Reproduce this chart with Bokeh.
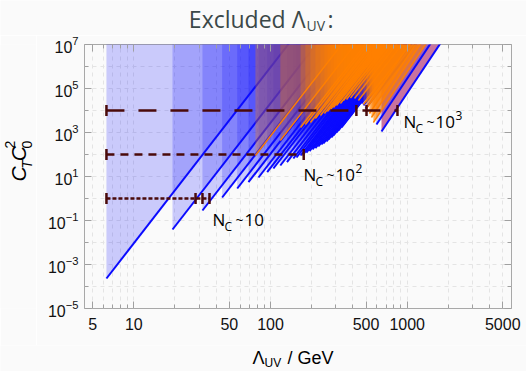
import numpy as np
from bokeh.plotting import figure
from bokeh.layouts import column, row
from bokeh.models import Label, FixedTicker, BasicTickFormatter, LogTickFormatter, Range1d, LogAxis
from bokeh.core.properties import value
from bokeh.embed import file_html
from bokeh.resources import INLINE

# ---------------- data ----------------
edge_exponent = 8.0        # exclusion edges rise like Lambda^8 ...
edge_exponent_right = 9.3  # ... and a little steeper for the last few (right-most) edges

blue_lambda = [6.31, 19.2, 31.8, 44.3, 57.1, 69.0, 81.7, 94.6, 105, 118, 132, 147, 155, 166,
               174, 183, 193, 203, 213, 224, 236, 244, 257, 266, 279, 289, 304, 314, 331, 342,
               360, 372, 385, 398, 412, 426, 440, 463, 479, 496]
blue_c = [2.31e-4, 0.039, 0.285, 1.11, 2.85, 5.51, 9.0, 15.7, 23.1, 31.6, 44.7, 65.8, 73, 90,
          105, 123, 144, 169, 197, 231, 285, 316, 390, 481, 593, 731, 1000, 1233, 1690, 2310,
          3510, 4810, 6580, 1.0e4, 1.37e4, 1.69e4, 1.87e4, 2.08e4, 1.69e4, 1.23e4]

orange_lambda = [77.6, 118, 166, 180, 196, 213, 232, 248, 261, 275, 289, 304, 325,
                 342, 360, 385, 412, 440, 479]
orange_c = [90, 433, 1690, 2310, 2850, 4330, 5930, 7310, 9010, 1.11e4, 1.37e4, 1.69e4,
            2.08e4, 2.85e4, 3.16e4, 3.7e4, 3.51e4, 2.85e4, 1.87e4]

# right-most group (steeper edges): kind 0 = orange, 1 = blue, 2 = pink strip
right_lambda = [504, 530, 548, 566, 596, 649]
right_c = [1.23e4, 7310, 4810, 2850, 2310, 1110]
right_kind = [0, 0, 0, 0, 1, 2]

bar_level = [1.0, 100.0, 1.0e4]
bar_start = [6.31, 6.31, 6.31]
bar_caps = [[28.3, 31.8, 35.8], [175.0], [425.0, 504.0, 849.0]]
bar_power = ["", "2", "3"]

x_major = [5, 10, 50, 100, 500, 1000, 5000]
x_minor = [6, 7, 8, 9, 20, 30, 40, 60, 70, 80, 90, 200, 300, 400, 600, 700, 800, 900,
           2000, 3000, 4000]
y_major = [1e-5, 1e-3, 1e-1, 1e1, 1e3, 1e5, 1e7]
y_minor = [1e-4, 1e-2, 1.0, 1e2, 1e4, 1e6]

# ---------------- styling / layout ----------------
BG = "#fafafa"
BLUE = "#0a0aff"
ORANGE = "#ff8000"
PINK = "#c8729f"
BAR = "#4a0a0a"
TITLE_C = "#3b4848"
TICK_C = "#a0a0a0"
ORANGE_ALPHA = 0.3
ORANGE_ALPHA_RIGHT = 0.6
BLUE_ALPHA = 0.2
MID = 0.33   # baseline-to-middle offset, in units of the font size

W, H = 526, 371
TOP_H = 35          # title strip height
BOT_H = 26          # x-axis title strip height
LEFT_W = 36         # y-axis title strip width
MAIN_H = H - TOP_H - BOT_H
MAIN_W = W - LEFT_W
FRAME_L, FRAME_T, FRAME_R, FRAME_B = 84, 44, 511, 308   # canvas px of the plot frame

p = figure(width=MAIN_W, height=MAIN_H, x_axis_type="log", y_axis_type="log",
           x_range=(4.36, 5795), y_range=(1e-5, 1e7), title=None,
           output_backend="svg", toolbar_location=None,
           min_border_left=FRAME_L - LEFT_W, min_border_right=W - FRAME_R,
           min_border_top=FRAME_T - TOP_H, min_border_bottom=TOP_H + MAIN_H - FRAME_B)
p.background_fill_color = BG
p.border_fill_color = BG
p.outline_line_color = "#a8a8a8"
p.outline_line_width = 1

xt = FixedTicker(ticks=x_major, minor_ticks=x_minor)
yt = FixedTicker(ticks=y_major, minor_ticks=y_minor)
p.add_layout(LogAxis(ticker=xt, major_label_overrides={t: "" for t in x_major},
                     major_label_standoff=0), "above")
p.add_layout(LogAxis(ticker=yt, major_label_overrides={t: "" for t in y_major},
                     major_label_standoff=0), "right")

for ax in p.axis:
    ax.axis_line_color = None
    ax.major_tick_in = 7
    ax.major_tick_out = 0
    ax.minor_tick_in = 4
    ax.minor_tick_out = 0
    ax.major_tick_line_color = TICK_C
    ax.minor_tick_line_color = TICK_C
    ax.major_label_text_font = "Liberation Sans"
    ax.major_label_text_font_size = "16px"
    ax.major_label_text_color = "#111111"

p.below[0].ticker = xt
p.below[0].formatter = BasicTickFormatter()
p.below[0].major_label_standoff = 9
p.left[0].ticker = yt
p.left[0].formatter = LogTickFormatter()
p.left[0].major_label_standoff = 6

for g in (p.xgrid, p.ygrid):
    g.grid_line_color = "#e4e4e4"
    g.grid_line_dash = "4 4"
    g.minor_grid_line_color = "#e4e4e4"
    g.minor_grid_line_dash = "4 4"

C_TOP = 1e9


def wedge(l0, c0, k):
    lt = l0 * (C_TOP / c0) ** (1.0 / k)
    return [l0, lt, l0], [c0, C_TOP, C_TOP]


# pink strip at the far right (drawn underneath everything)
for l0, c0, kd in zip(right_lambda, right_c, right_kind):
    if kd == 2:
        xs, ys = wedge(l0, c0, edge_exponent_right)
        p.patch(xs, ys, fill_color=PINK, fill_alpha=1.0, line_color=None)

# blue family: translucent wedges, then their edges
blue_set = [(l, c, edge_exponent) for l, c in zip(blue_lambda, blue_c)] + \
           [(l, c, edge_exponent_right) for l, c, kd in zip(right_lambda, right_c, right_kind) if kd == 1]
for l0, c0, k in blue_set:
    xs, ys = wedge(l0, c0, k)
    p.patch(xs, ys, fill_color=BLUE, fill_alpha=BLUE_ALPHA, line_color=None)
for l0, c0, k in blue_set:
    xs, ys = wedge(l0, c0, k)
    p.line(xs[:2], ys[:2], line_color=BLUE, line_width=2.0)

# orange family on top
orange_set = [(l, c, edge_exponent, ORANGE_ALPHA) for l, c in zip(orange_lambda, orange_c)] + \
             [(l, c, edge_exponent_right, ORANGE_ALPHA_RIGHT)
              for l, c, kd in zip(right_lambda, right_c, right_kind) if kd == 0]
for l0, c0, k, a in orange_set:
    xs, ys = wedge(l0, c0, k)
    p.patch(xs, ys, fill_color=ORANGE, fill_alpha=a, line_color=None)
for l0, c0, k, a in orange_set:
    xs, ys = wedge(l0, c0, k)
    p.line(xs[:2], ys[:2], line_color=ORANGE, line_width=1.4)

# edge of the pink strip
for l0, c0, kd in zip(right_lambda, right_c, right_kind):
    if kd == 2:
        xs, ys = wedge(l0, c0, edge_exponent_right)
        p.line(xs[:2], ys[:2], line_color=BLUE, line_width=2.0)

# error bars
dashes = ["4 2", "8 6", "18 14"]
for lvl, x0, caps, dash in zip(bar_level, bar_start, bar_caps, dashes):
    p.line([x0, max(caps)], [lvl, lvl], line_color=BAR, line_width=2.5, line_dash=dash)
    xs = [x0] + caps
    p.scatter(xs, [lvl] * len(xs), marker="dash", angle=np.pi / 2, size=11,
              line_color=BAR, line_width=2.5)


def put(text, cx, base, size, font="Open Sans", color="#000000", style="normal"):
    """Label inside the frame; cx / base are canvas px (left edge / baseline)."""
    cy = base - MID * size
    p.add_layout(Label(x=cx - FRAME_L, y=FRAME_B - cy, x_units="screen", y_units="screen",
                       text=text, text_font=font, text_font_size=f"{size}px",
                       text_color=color, text_font_style=style,
                       text_align="left", text_baseline="middle"))


label_pos = [(212, 225), (303, 180), (403, 127)]
for (cx, cy), pw in zip(label_pos, bar_power):
    put("N", cx, cy, 17)
    put("C", cx + 12, cy + 5, 12)
    put("~", cx + 23, cy - 1, 14)
    put("10", cx + 32, cy, 17)
    if pw:
        put(pw, cx + 52, cy - 8, 12)


class Strip:
    """A bare figure whose data units are canvas pixels."""

    def __init__(self, w, h, x0, y0):
        self.x0, self.y0, self.h = x0, y0, h
        f = figure(width=w, height=h, x_range=Range1d(0, w), y_range=Range1d(0, h), title=None,
                   output_backend="svg", toolbar_location=None, min_border=0,
                   x_axis_location=None, y_axis_location=None)
        f.grid.visible = False
        f.outline_line_color = None
        f.background_fill_color = BG
        f.border_fill_color = BG
        self.fig = f

    def txt(self, s, cx, cy, size, font="Open Sans", color="#000000", style="normal",
            align="left", angle=0.0):
        # cx, cy: canvas px of the anchor (cy = vertical middle of the text)
        self.fig.text(x=[cx - self.x0], y=[self.y0 + self.h - cy], text=[s],
                      text_font=value(font), text_font_size=value(f"{size}px"),
                      text_color=color, text_font_style=style, text_align=align,
                      text_baseline="middle", angle=angle)


# title strip
top = Strip(W, TOP_H, 0, 0)
top.txt("Excluded Λ", 305, 26 - MID * 23, 23, color=TITLE_C, align="right")
top.txt("UV", 306, 30 - MID * 14, 14, color=TITLE_C)
top.txt(":", 327, 26 - MID * 23, 23, color=TITLE_C)

# y-axis title strip (rotated text, reading upwards; anchor x = middle of the glyphs)
left = Strip(LEFT_W, MAIN_H, 0, TOP_H)
ang = np.pi / 2
left.txt("C", 18, 196, 21, font="Liberation Sans", style="italic", angle=ang)
left.txt("T", 26, 181, 14, font="Liberation Sans", style="italic", angle=ang)
left.txt("C", 18, 172, 21, font="Liberation Sans", style="italic", angle=ang)
left.txt("0", 26, 157, 14, font="Liberation Sans", angle=ang)
left.txt("2", 9, 157, 14, font="Liberation Sans", angle=ang)

# x-axis title strip
bot = Strip(W, BOT_H, 0, TOP_H + MAIN_H)
bot.txt("Λ", 252, 363 - MID * 18, 18, font="Liberation Sans")
bot.txt("UV", 264, 366 - MID * 12, 12, font="Liberation Sans")
bot.txt("/ GeV", 287, 363 - MID * 18, 18, font="Liberation Sans")

layout = column(top.fig, row(left.fig, p, spacing=0), bot.fig, spacing=0)
open("out.html", "w").write(file_html(layout, INLINE))
